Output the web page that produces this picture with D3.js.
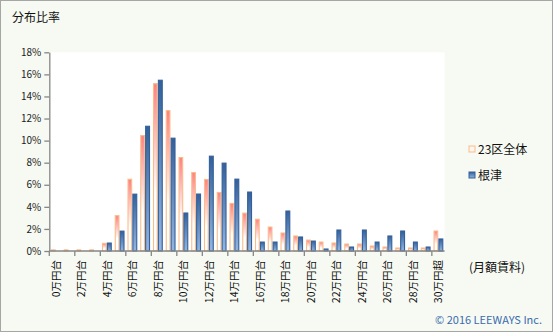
<!DOCTYPE html>
<html><head><meta charset="utf-8">
<script src="https://cdn.jsdelivr.net/npm/d3@7"></script>
<style>
html,body{margin:0;padding:0;background:#f7faf2;}
svg{display:block;}
text{font-family:"Noto Sans CJK JP","Noto Sans",sans-serif;}
</style></head><body>
<svg id="c" width="553" height="332"></svg>
<script>
const categories = ["0万円台","1万円台","2万円台","3万円台","4万円台","5万円台","6万円台","7万円台","8万円台","9万円台",
"10万円台","11万円台","12万円台","13万円台","14万円台","15万円台","16万円台","17万円台","18万円台","19万円台",
"20万円台","21万円台","22万円台","23万円台","24万円台","25万円台","26万円台","27万円台","28万円台","29万円台","30万円超"];
const seriesNames = ["23区全体","根津"];
const wardAll = [0.1,0.1,0.1,0.1,0.69,3.2,6.5,10.46,15.16,12.72,8.47,7.11,6.48,5.3,4.31,3.43,2.88,2.17,1.63,1.36,0.99,0.81,0.72,0.63,0.63,0.45,0.36,0.27,0.27,0.27,1.81];
const nezu = [0,0,0,0,0.72,1.8,5.15,11.3,15.47,10.22,3.44,5.16,8.59,7.96,6.51,5.34,0.81,0.81,3.62,1.27,0.9,0.18,1.9,0.36,1.9,0.81,1.36,1.81,0.81,0.36,1.09];
const yTicks = [0,2,4,6,8,10,12,14,16,18];

const svg = d3.select("#c");
const W = 553, H = 332;
const plot = {l:49.3, r:444.6, t:52.3, b:251};

svg.append("rect").attr("x",0.5).attr("y",0.5).attr("width",W-1).attr("height",H-1)
  .attr("fill","#f7faf2").attr("stroke","#a6a6a6");

const defs = svg.append("defs");
const g1 = defs.append("linearGradient").attr("id","gOr").attr("x1",0).attr("y1",0).attr("x2",0).attr("y2",1);
g1.append("stop").attr("offset","0%").attr("stop-color","#ff8080");
g1.append("stop").attr("offset","65%").attr("stop-color","#ffffff");
g1.append("stop").attr("offset","100%").attr("stop-color","#ffffff");
const g2 = defs.append("linearGradient").attr("id","gBl").attr("x1",0).attr("y1",0).attr("x2",0).attr("y2",1);
g2.append("stop").attr("offset","0%").attr("stop-color","#33609a");
g2.append("stop").attr("offset","100%").attr("stop-color","#94b5e0");

svg.append("rect").attr("x",plot.l).attr("y",plot.t).attr("width",plot.r-plot.l).attr("height",plot.b-plot.t).attr("fill","#ffffff");

const x = d3.scaleBand().domain(categories).range([plot.l, plot.r]).paddingInner(0).paddingOuter(0);
const xs = d3.scaleBand().domain(seriesNames).range([1.6, x.bandwidth()-1.4]).paddingInner(0);
const y = d3.scaleLinear().domain([0,18]).range([plot.b, plot.t]);

const data = categories.map((c,i)=>({c, v:[wardAll[i], nezu[i]]}));
const grp = svg.append("g").selectAll("g").data(data).join("g")
  .attr("transform", d=>`translate(${x(d.c)},0)`);
// orange
grp.filter(d=>d.v[0]>0).append("rect")
  .attr("x", xs(seriesNames[0])+0.6).attr("width", xs.bandwidth()-1.2)
  .attr("y", d=>y(d.v[0])).attr("height", d=>Math.max(0,y(0)-y(d.v[0])))
  .attr("fill","url(#gOr)").attr("stroke","#f9bd8a").attr("stroke-width",1.1);
// blue
grp.filter(d=>d.v[1]>0).append("rect")
  .attr("x", xs(seriesNames[1])+0.6).attr("width", xs.bandwidth()-1.0)
  .attr("y", d=>y(d.v[1])).attr("height", d=>Math.max(0,y(0)-y(d.v[1])))
  .attr("fill","url(#gBl)").attr("stroke","#33609a").attr("stroke-width",1.1);

// y axis
const ya = svg.append("g").attr("transform",`translate(${plot.l},0)`)
  .call(d3.axisLeft(y).tickValues(yTicks).tickFormat(d=>d+"%").tickSize(5).tickSizeOuter(0));
ya.select(".domain").attr("stroke","#868686").attr("stroke-width",1.3);
ya.selectAll(".tick line").attr("stroke","#868686").attr("stroke-width",1.3);
ya.selectAll("text").attr("font-family","Arial,'Liberation Sans',sans-serif").attr("font-size",10).attr("fill","#222").attr("x",-8);

// x axis
const xa = svg.append("g").attr("transform",`translate(0,${plot.b})`);
xa.append("line").attr("x1",plot.l).attr("x2",plot.r).attr("stroke","#868686").attr("stroke-width",1.3);
const tickIdx = d3.range(0,31,2);
xa.selectAll("line.tk").data(tickIdx).join("line").attr("class","tk")
  .attr("x1",i=>x(categories[i])).attr("x2",i=>x(categories[i])).attr("y1",0).attr("y2",5)
  .attr("stroke","#868686").attr("stroke-width",1.3);
xa.selectAll("text").data(tickIdx).join("text")
  .attr("transform",i=>`translate(${x(categories[i])+x.bandwidth()/2+4},${9}) rotate(-90)`)
  .attr("text-anchor","end").attr("font-size",10.5).attr("fill","#111")
  .text(i=>categories[i]);

// titles
svg.append("text").attr("x",12).attr("y",22).attr("font-size",12).attr("fill","#111").text("分布比率");
svg.append("text").attr("x",469).attr("y",272).attr("font-size",12).attr("fill","#111").text("(月額賃料)");
svg.append("text").attr("x",542).attr("y",324).attr("text-anchor","end").attr("font-size",11)
  .attr("font-family","'Liberation Sans',Arial,sans-serif").attr("fill","#3a6bb0").text("© 2016 LEEWAYS Inc.");

// legend
const leg = svg.append("g");
const ly = [149, 175];
leg.selectAll("rect").data(seriesNames).join("rect")
  .attr("x",469).attr("y",(d,i)=>ly[i]-3).attr("width",6).attr("height",6)
  .attr("fill",(d,i)=>i===0?"#fff4ee":"url(#gBl)").attr("stroke",(d,i)=>i===0?"#f9bd8a":"#33609a");
leg.selectAll("text").data(seriesNames).join("text")
  .attr("x",478).attr("y",(d,i)=>ly[i]+4.5).attr("font-size",12).attr("fill","#111").text(d=>d);
</script>
</body></html>
